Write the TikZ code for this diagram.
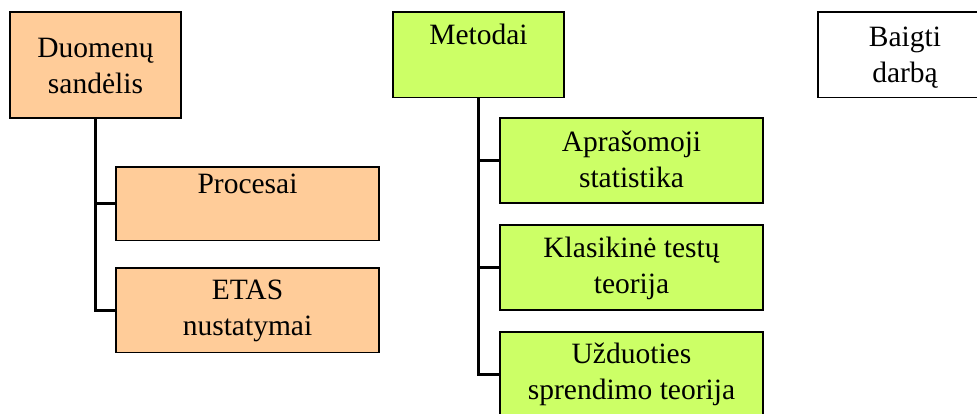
\documentclass[tikz,border=0pt]{standalone}
\usepackage{fontspec}
\setmainfont{Liberation Serif}
\definecolor{peach}{HTML}{FFCC99}
\definecolor{lime}{HTML}{CCFF66}
\tikzset{
  box/.style={draw=black, line width=1.8pt, inner sep=0pt},
  lbl/.style={inner sep=0pt, align=center, anchor=base,
    font=\fontsize{29.5}{36}\selectfont},
  link/.style={draw=black, line width=3pt}
}
\newcommand{\boxat}[6]{%
  \path[box, fill=#6] (#2,#3) rectangle (#4,#5);
  \node[inner sep=0pt, minimum width={(#4-#2)*1pt}, minimum height={(#5-#3)*1pt}]
    (#1) at ({(#2+#4)/2},{(#3+#5)/2}) {};}
\begin{document}
\begin{tikzpicture}[x=1pt, y=-1pt]
  \clip (0,0) rectangle (977,413);
  \fill[white] (0,0) rectangle (977,413);

  % data warehouse branch
  \boxat{ds}{10}{12}{181}{118}{peach}
  \boxat{proc}{116}{167}{379}{240.5}{peach}
  \boxat{etas}{116}{268}{379}{352.5}{peach}

  % methods branch
  \boxat{met}{393}{12}{564}{97.5}{lime}
  \boxat{apr}{500}{118}{763}{203}{lime}
  \boxat{kla}{500}{225}{763}{310}{lime}
  \boxat{uzd}{500}{332}{763}{416}{lime}

  % finish
  \boxat{end}{818}{12}{989}{97.5}{white}

  % connectors
  \draw[link] (ds.south) |- (proc.west);
  \draw[link] (ds.south) |- (etas.west);
  \draw[link] (met.south) |- (apr.west);
  \draw[link] (met.south) |- (kla.west);
  \draw[link] (met.south) |- (uzd.west);

  % labels (base anchor sits on the last line)
  \node[lbl] (ds-t)   at (95.5,93)   {Duomenų\\sandėlis};
  \node[lbl] (proc-t) at (247.5,193) {Procesai};
  \node[lbl] (etas-t) at (247.5,335) {ETAS\\nustatymai};
  \node[lbl] (met-t)  at (478.5,44)  {Metodai};
  \node[lbl] (apr-t)  at (631.5,187) {Aprašomoji\\statistika};
  \node[lbl] (kla-t)  at (631.5,293) {Klasikinė testų\\teorija};
  \node[lbl] (uzd-t)  at (631.5,399) {Užduoties\\sprendimo teorija};
  \node[lbl] (end-t)  at (905,82)    {Baigti\\darbą};
\end{tikzpicture}
\end{document}
